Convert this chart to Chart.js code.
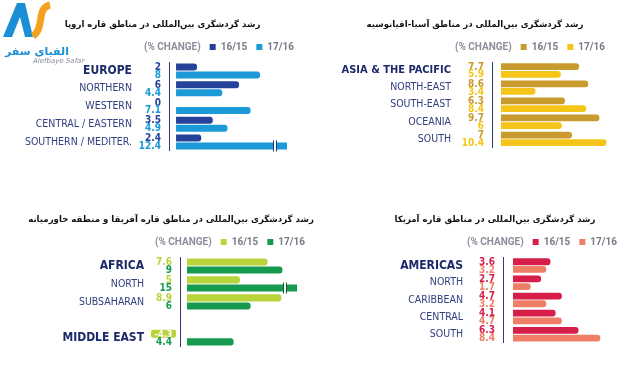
<!DOCTYPE html>
<html>
<head>
<meta charset="utf-8">
<script src="https://cdn.jsdelivr.net/npm/chart.js@4.4.1/dist/chart.umd.min.js"></script>
<style>
  html, body { margin: 0; padding: 0; background: #fff; }
  #wrap { position: relative; width: 640px; height: 390px; }
  .panel { position: absolute; width: 320px; height: 195px; }
</style>
</head>
<body>
<div id="wrap">
  <div class="panel" style="left:0;top:0"><canvas id="europeChart"></canvas></div>
  <div class="panel" style="left:320px;top:0"><canvas id="asiaChart"></canvas></div>
  <div class="panel" style="left:0;top:195px"><canvas id="africaChart"></canvas></div>
  <div class="panel" style="left:320px;top:195px"><canvas id="americasChart"></canvas></div>
</div>
<script>
// data
const seriesLabels = ['16/15', '17/16'];

const europeCats = ['EUROPE', 'NORTHERN', 'WESTERN', 'CENTRAL / EASTERN', 'SOUTHERN / MEDITER.'];
const europe1615 = [2, 6, 0, 3.5, 2.4];
const europe1716 = [8, 4.4, 7.1, 4.9, 12.4];

const asiaCats = ['ASIA & THE PACIFIC', 'NORTH-EAST', 'SOUTH-EAST', 'OCEANIA', 'SOUTH'];
const asia1615 = [7.7, 8.6, 6.3, 9.7, 7];
const asia1716 = [5.9, 3.4, 8.4, 6, 10.4];

const africaCats = ['AFRICA', 'NORTH', 'SUBSAHARAN', '', 'MIDDLE EAST'];
const africa1615 = [7.6, 5, 8.9, null, -4.3];
const africa1716 = [9, 15, 6, null, 4.4];

const americasCats = ['AMERICAS', 'NORTH', 'CARIBBEAN', 'CENTRAL', 'SOUTH'];
const americas1615 = [3.6, 2.7, 4.7, 4.1, 6.3];
const americas1716 = [3.2, 1.7, 3.2, 4.7, 8.4];

const NARROW = "'DejaVu Sans Condensed', 'Roboto', sans-serif";

// value labels next to the axis, break marks on clipped bars, box for negative values
const barExtras = {
  id: 'barExtras',
  afterDatasetsDraw(chart, args, opts) {
    const ctx = chart.ctx;
    const area = chart.chartArea;
    const xMax = chart.scales.x.max;
    chart.data.datasets.forEach((ds, di) => {
      const meta = chart.getDatasetMeta(di);
      meta.data.forEach((bar, i) => {
        const v = ds.data[i];
        if (v === null || v === undefined) return;
        ctx.save();
        ctx.textBaseline = 'middle';
        if (v < 0) {
          ctx.fillStyle = opts.colors[di];
          ctx.beginPath();
          ctx.roundRect(area.left - 29, bar.y - bar.height / 2 - 0.5, 25, bar.height + 1, 2);
          ctx.fill();
          ctx.font = 'bold 9px ' + NARROW;
          ctx.fillStyle = '#fff';
          ctx.textAlign = 'center';
          ctx.fillText(String(v), area.left - 16.5, bar.y + 0.5);
        } else {
          ctx.font = 'bold 10px ' + NARROW;
          ctx.fillStyle = opts.colors[di];
          ctx.textAlign = 'right';
          ctx.fillText(String(v), area.left - 8, bar.y + 0.5);
        }
        if (v > xMax) {
          const bx = area.right + opts.clipRight - 14;
          const top = bar.y - bar.height / 2 - 2;
          const h = bar.height + 4;
          ctx.fillStyle = '#fff';
          ctx.fillRect(bx, top, 4, h);
          ctx.strokeStyle = opts.breakColor;
          ctx.lineWidth = 1;
          ctx.beginPath();
          ctx.moveTo(bx + 0.5, top); ctx.lineTo(bx + 0.5, top + h);
          ctx.moveTo(bx + 3.5, top); ctx.lineTo(bx + 3.5, top + h);
          ctx.stroke();
        }
        ctx.restore();
      });
    });
  }
};

// site logo, top left
const logoPlugin = {
  id: 'logo',
  afterDraw(chart) {
    const ctx = chart.ctx;
    ctx.save();
    ctx.fillStyle = '#1b8fd6';
    ctx.beginPath();
    ctx.moveTo(3, 37); ctx.lineTo(17, 3); ctx.lineTo(25, 3);
    ctx.lineTo(33, 37); ctx.lineTo(25, 37); ctx.lineTo(20, 17); ctx.lineTo(12, 37);
    ctx.closePath();
    ctx.fill();
    ctx.strokeStyle = '#f4a11d';
    ctx.lineWidth = 7;
    ctx.beginPath();
    ctx.moveTo(50, 5);
    ctx.bezierCurveTo(36, 8, 45, 28, 33, 36);
    ctx.stroke();
    ctx.fillStyle = '#1b8fd6';
    ctx.font = 'bold 11px "DejaVu Sans"';
    ctx.textAlign = 'left';
    ctx.textBaseline = 'alphabetic';
    ctx.fillText('الفبای سفر', 5, 55);
    ctx.fillStyle = '#8a8f99';
    ctx.font = 'italic 7px "DejaVu Sans"';
    ctx.fillText('Alefbaye Safar', 33, 63);
    ctx.restore();
  }
};

function makePanel(id, p) {
  const ctx = document.getElementById(id).getContext('2d');
  return new Chart(ctx, {
    type: 'bar',
    data: {
      labels: p.cats,
      datasets: [p.d1, p.d2].map((d, i) => ({
        label: seriesLabels[i],
        data: d,
        backgroundColor: c => (c.raw < 0 ? 'rgba(0,0,0,0)' : p.colors[i]),
        borderRadius: 3,
        borderSkipped: 'start',
        barPercentage: 0.88,
        categoryPercentage: 0.9,
        clip: { left: false, top: false, bottom: false, right: p.clipRight || 0 }
      }))
    },
    options: {
      indexAxis: 'y',
      responsive: true,
      maintainAspectRatio: false,
      animation: false,
      layout: { padding: { left: p.left, right: p.right, top: 0, bottom: 12 } },
      scales: {
        x: { display: false, min: p.xMin, max: p.xMax },
        y: {
          grid: { display: false, drawTicks: false },
          border: { display: true, color: '#2d3a7a', width: 1 },
          afterFit: s => { s.width = p.yWidth; },
          ticks: {
            autoSkip: false,
            padding: p.tickPad,
            font: c => (p.heads.includes(c.index)
              ? { family: NARROW, size: p.headSize, weight: 'bold' }
              : { family: NARROW, size: 10.5, weight: 'normal' }),
            color: c => (p.heads.includes(c.index) ? '#1c2a6c' : '#33407f')
          }
        }
      },
      plugins: {
        title: {
          display: true,
          text: p.title,
          color: '#111',
          font: { family: "'DejaVu Sans'", size: 8.6, weight: 'bold' },
          padding: { top: 20, bottom: 2.7 }
        },
        legend: {
          display: true,
          align: 'end',
          onClick: null,
          labels: {
            boxWidth: 6,
            boxHeight: 6,
            padding: 9,
            font: { family: 'Roboto', size: 10, weight: 'bold' },
            generateLabels: chart => [{
              text: '(% CHANGE)', fillStyle: 'rgba(0,0,0,0)', strokeStyle: 'rgba(0,0,0,0)',
              lineWidth: 0, fontColor: '#8e8e9c', hidden: false, datasetIndex: null
            }].concat(seriesLabels.map((s, i) => ({
              text: s, fillStyle: p.colors[i], strokeStyle: p.colors[i],
              lineWidth: 0, fontColor: '#7a7a88', hidden: false, datasetIndex: i
            })))
          }
        },
        tooltip: { enabled: false },
        barExtras: { colors: p.colors, clipRight: p.clipRight || 0, breakColor: p.breakColor }
      }
    },
    plugins: p.logo ? [barExtras, logoPlugin] : [barExtras]
  });
}

makePanel('europeChart', {
  cats: europeCats, d1: europe1615, d2: europe1716,
  colors: ['#24429a', '#1b9ad7'], breakColor: '#1d3580',
  title: 'رشد گردشگری بین‌المللی در مناطق قاره اروپا',
  heads: [0], headSize: 12, left: 22, right: 17, yWidth: 147, tickPad: 37,
  xMin: -0.67, xMax: 12.09, clipRight: -16, logo: true
});

makePanel('asiaChart', {
  cats: asiaCats, d1: asia1615, d2: asia1716,
  colors: ['#c99a2e', '#f6c519'], breakColor: '#8a6a1a',
  title: 'رشد گردشگری بین‌المللی در مناطق آسیا-اقیانوسیه',
  heads: [0], headSize: 11, left: 16, right: 26, yWidth: 156, tickPad: 41,
  xMin: -0.88, xMax: 11.14
});

makePanel('africaChart', {
  cats: africaCats, d1: africa1615, d2: africa1716,
  colors: ['#b8d43a', '#169a4f'], breakColor: '#0d5e30',
  title: 'رشد گردشگری بین‌المللی در مناطق قاره آفریقا و منطقه خاورمیانه',
  heads: [0, 4], headSize: 12, left: 28, right: 6, yWidth: 152, tickPad: 36,
  xMin: -0.66, xMax: 11.98, clipRight: -17
});

makePanel('americasChart', {
  cats: americasCats, d1: americas1615, d2: americas1716,
  colors: ['#d71e4a', '#ef7e67'], breakColor: '#8a1530',
  title: 'رشد گردشگری بین‌المللی در مناطق قاره آمریکا',
  heads: [0], headSize: 12, left: 44, right: 14, yWidth: 139, tickPad: 40,
  xMin: -0.96, xMax: 10.87
});
</script>
</body>
</html>
